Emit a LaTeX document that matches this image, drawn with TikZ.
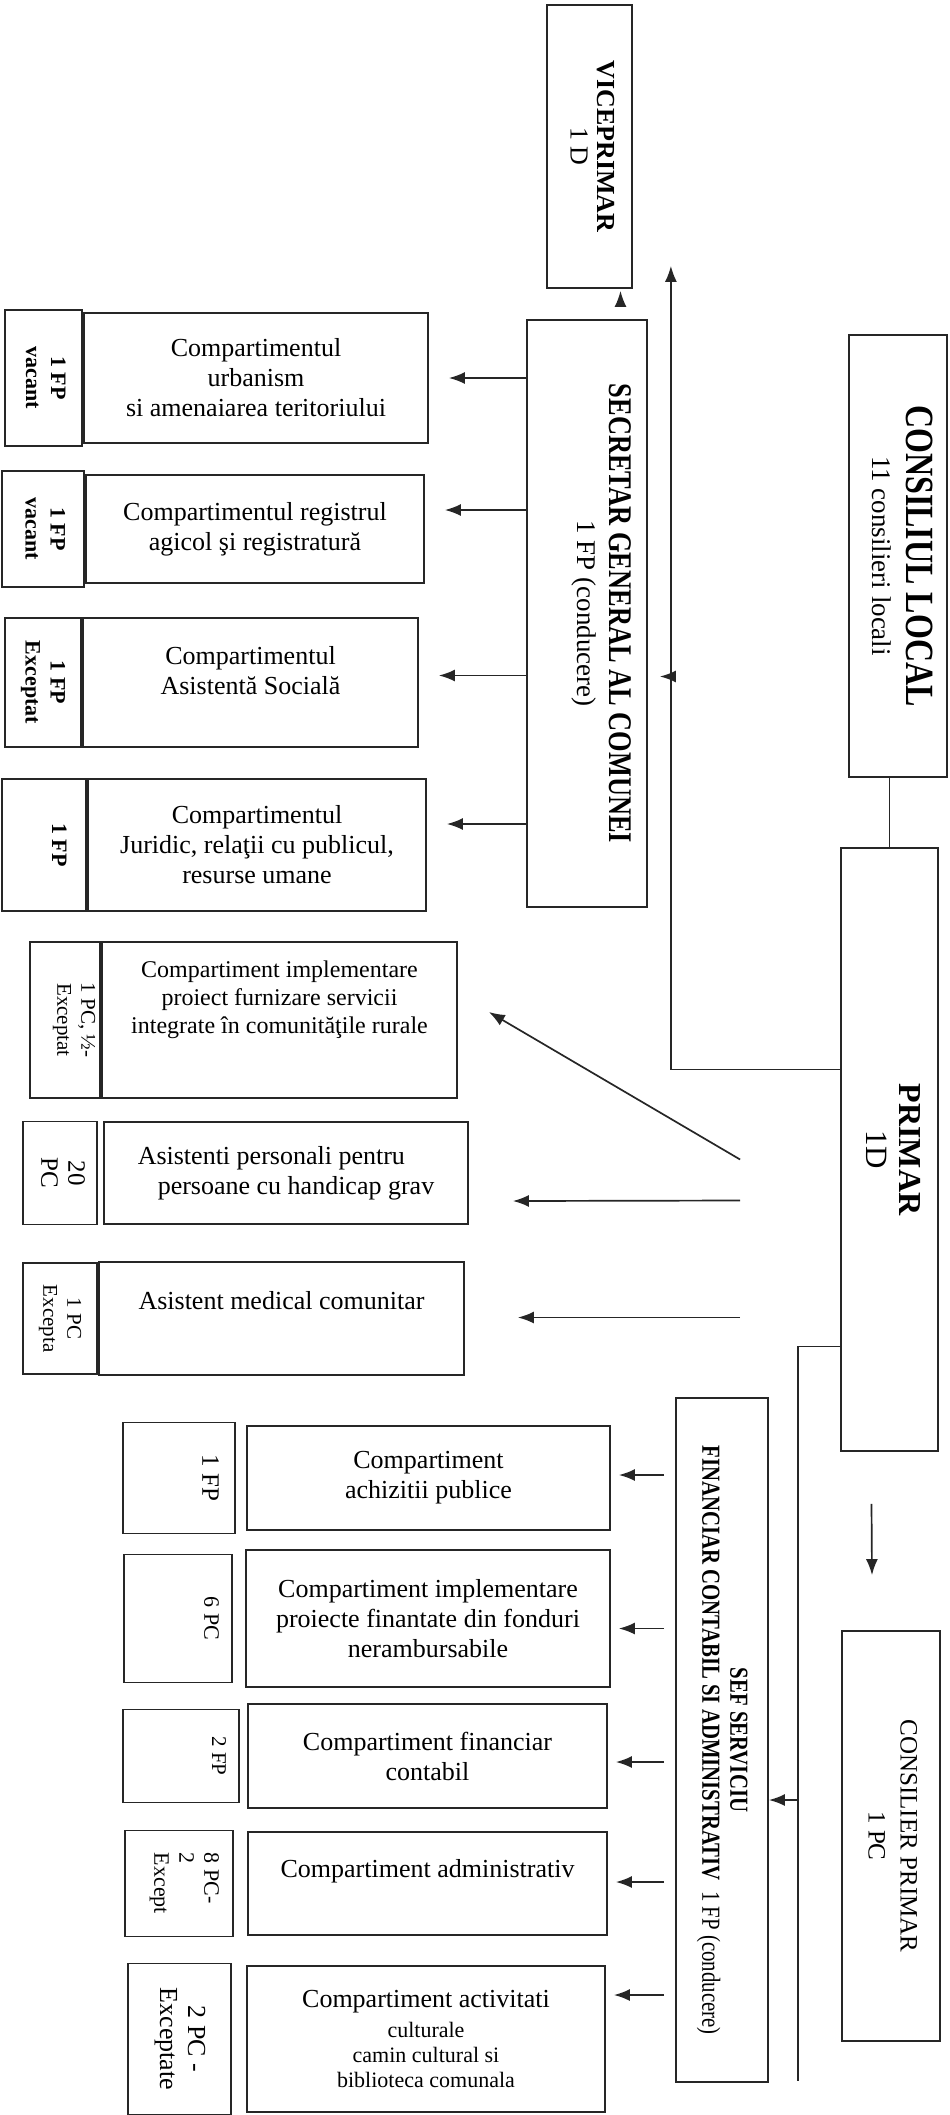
\documentclass[tikz,border=0pt]{standalone}
\usepackage{fontspec}
\setmainfont{Liberation Serif}
\newfontfamily\narrowserif[FakeStretch=0.8]{Liberation Serif}
\usepackage{graphicx}
\usetikzlibrary{positioning,calc,arrows,arrows.meta}
\newcommand{\fsz}[2]{\fontsize{#1}{#2}\selectfont}
\newcommand{\vlabel}[2][c]{\rotatebox{-90}{\begin{tabular}{@{}#1@{}}#2\end{tabular}}}
\tikzset{
    block/.style = {draw=black!85, rectangle, line width=1.8pt, inner sep=0pt, align=center},
    dept/.style = {block, font=\fsz{26}{30}},
    staff/.style = {block, font=\fsz{22}{25}},
    stafftext/.style = {inner sep=0pt, anchor=east, font=\fsz{22}{25}},
    arrow/.style = {draw=black!85, ->, line width=1.7pt},
    link/.style = {draw=black!85, line width=1.7pt}
}
\begin{document}
\begin{tikzpicture}[x=1pt, y=-1pt, >={Latex[length=16pt,width=12pt]}]
    \useasboundingbox (0,0) rectangle (950,2115);
    \node [block, minimum width=98pt, minimum height=442pt, font=\fsz{27}{34}] (consiliu) at (898,556)
        {\vlabel{{\narrowserif\bfseries\fsz{40}{34}CONSILIUL LOCAL}\\11 consilieri locali}};
    \node [block, minimum width=97pt, minimum height=603pt, font=\fsz{31}{33}] (primar) at (889.5,1149.5)
        {\vlabel{{\fsz{32}{33}\bfseries PRIMAR}\\1D}};
    \node [block, minimum width=98pt, minimum height=410pt, font=\fsz{25}{32}] (consilier) at (891,1836)
        {\vlabel{CONSILIER PRIMAR\\1 PC}};
    \node [block, minimum width=85pt, minimum height=283pt, font=\fsz{26}{27}] (vice) at (589.5,146.5)
        {\vlabel{\textbf{VICEPRIMAR}\\1 D}};
    \node [block, minimum width=120pt, minimum height=587pt, font=\fsz{27}{32}] (secretar) at (587,613.5)
        {\vlabel{{\narrowserif\bfseries\fsz{33}{32}SECRETAR GENERAL AL COMUNEI}\\1 FP (conducere)\\[26pt]}};
    \node [block, minimum width=92pt, minimum height=684pt, font={\narrowserif\fsz{26}{28}}] (sef) at (722,1740)
        {\vlabel{\textbf{SEF SERVICIU}\\\textbf{FINANCIAR CONTABIL SI ADMINISTRATIV}\ \ 1 FP (conducere)}};

    \node [dept, minimum width=344pt, minimum height=130pt] (urb) at (256,378)
        {Compartimentul\\urbanism\\si amenaiarea teritoriului};
    \node [staff, left=0pt of urb, minimum width=77pt, minimum height=136pt] (urbn) {\vlabel{\textbf{1 FP}\\\textbf{vacant}}};
    \node [dept, minimum width=338pt, minimum height=108pt] (reg) at (255,529)
        {Compartimentul registrul\\agicol şi registratură};
    \node [staff, left=0pt of reg, minimum width=82pt, minimum height=116pt] (regn) {\vlabel{\textbf{1 FP}\\\textbf{vacant}}};
    \node [dept, minimum width=335pt, minimum height=129pt] (asist) at (250.5,682.5)
        {Compartimentul\\Asistentă  Socială\\[-6pt]\mbox{}};
    \node [staff, left=0pt of asist, minimum width=76pt, minimum height=129pt] (asistn) {\vlabel{\textbf{1 FP}\\\textbf{Exceptat}}};
    \node [dept, minimum width=338pt, minimum height=132pt] (jur) at (257,845)
        {Compartimentul\\Juridic, relaţii cu publicul,\\resurse umane};
    \node [staff, left=0pt of jur, minimum width=84pt, minimum height=132pt] (jurn) {\vlabel{\textbf{1 FP}\\[26pt]}};
    \node [dept, minimum width=355pt, minimum height=156pt, font=\fsz{24}{28}] (proiect) at (279.5,1020)
        {Compartiment implementare\\proiect furnizare servicii\\integrate în comunităţile rurale\\[18pt]\mbox{}};
    \node [staff, left=0pt of proiect, minimum width=70pt, minimum height=156pt, font=\fsz{21}{24}] (proiectn) {\vlabel{1 PC, ½-\\Exceptat\\[18pt]}};
    \node [dept, align=left, minimum width=364pt, minimum height=102pt] (apers) at (286,1173)
        {Asistenti personali pentru\\\hspace*{20pt}persoane cu handicap grav};
    \node [staff, left=5pt of apers, minimum width=74pt, minimum height=103pt, font=\fsz{25}{27}] (apersn) {\vlabel{20\\PC}};
    \node [dept, minimum width=365pt, minimum height=113pt] (amed) at (281.5,1318.5)
        {Asistent medical comunitar\\[6pt]\mbox{}};
    \node [staff, left=0pt of amed, minimum width=74pt, minimum height=111pt, font=\fsz{21}{24}] (amedn) {\vlabel{1 PC\\Excepta}};

    \node [dept, minimum width=363pt, minimum height=104pt] (achiz) at (428.5,1478)
        {Compartiment\\achizitii publice};
    \node [staff, left=10pt of achiz, minimum width=112pt, minimum height=111pt] (achizn) {};
    \node [stafftext, font=\fsz{25}{28}] (achizt) at ([xshift=-14pt]achizn.east) {\vlabel{1 FP}};
    \node [dept, minimum width=364pt, minimum height=137pt] (fond) at (428,1618.5)
        {Compartiment implementare\\proiecte finantate din fonduri\\nerambursabile};
    \node [staff, left=12pt of fond, minimum width=108pt, minimum height=128pt] (fondn) {};
    \node [stafftext] (fondt) at ([xshift=-11pt]fondn.east) {\vlabel{6 PC}};
    \node [dept, minimum width=359pt, minimum height=104pt] (fin) at (427.5,1756)
        {Compartiment financiar\\contabil};
    \node [staff, left=7pt of fin, minimum width=116pt, minimum height=93pt] (finn) {};
    \node [stafftext, font=\fsz{21}{24}] (fint) at ([xshift=-11pt]finn.east) {\vlabel{2 FP}};
    \node [dept, minimum width=359pt, minimum height=103pt] (adm) at (427.5,1883.5)
        {Compartiment administrativ\\[0pt]\mbox{}};
    \node [staff, left=13pt of adm, minimum width=108pt, minimum height=106pt] (admn) {};
    \node [stafftext] (admt) at ([xshift=-12pt]admn.east) {\vlabel[l]{8 PC-\\2\\Except}};
    \node [dept, minimum width=358pt, minimum height=146pt] (cult) at (426,2039)
        {Compartiment activitati\\{\fsz{22}{25}culturale}\\[-5pt]{\fsz{22}{25}camin cultural si}\\[-5pt]{\fsz{22}{25}biblioteca comunala}};
    \node [staff, left=14pt of cult, minimum width=103pt, minimum height=151pt, font=\fsz{26}{28}] (cultn) {\vlabel{2 PC -\\Exceptate}};

    \draw [link] (consiliu.south -| primar.north) -- (primar.north);
    \coordinate (viceup) at ($(vice.south east)+(38,-23)$);
    \coordinate (secin) at ($(secretar.east)+(0,63)$);
    \draw [arrow] ($(primar.west)+(0,-80)$) -| (viceup);
    \draw [arrow, shorten >=12pt] (viceup |- secin) -- (secin);
    \draw [arrow] ($(vice.south)+(31,18)$) -- ($(vice.south)+(31,2)$);
    \foreach \d/\s in {urb/0, reg/-19, asist/-7, jur/-21}
        \draw [arrow] ($(secretar.west |- \d.east)+(0,\s)$) -- ($(\d.east)+(20,\s)$);
    \coordinate (o1) at ($(primar.west)+(-100,10)$);
    \coordinate (o2) at ($(primar.west)+(-100,51)$);
    \coordinate (o3) at ($(primar.west)+(-100,168)$);
    \draw [arrow] (o1) -- ($(proiect.east)+(31,-8)$);
    \draw [arrow] (o2) -- ($(apers.east)+(44,28)$);
    \draw [arrow] (o3) -- ($(amed.east)+(53,-1)$);
    \draw [arrow] ($(primar.south)+(-18,52)$) -- ($(consilier.north)+(-19,-55)$);
    \coordinate (sefbus) at ($(sef.south east)+(29,-2)$);
    \draw [link] ($(primar.west)+(0,197)$) -| (sefbus);
    \draw [arrow] ($(sefbus |- sef.east)+(0,60)$) -- ($(sef.east)+(0,60)$);
    \foreach \d/\s in {achiz/-3, fond/10, fin/6, adm/-1.5, cult/-44}
        \draw [arrow] ($(sef.west |- \d.east)+(-11,\s)$) -- ($(\d.east)+(8,\s)$);
\end{tikzpicture}
\end{document}
